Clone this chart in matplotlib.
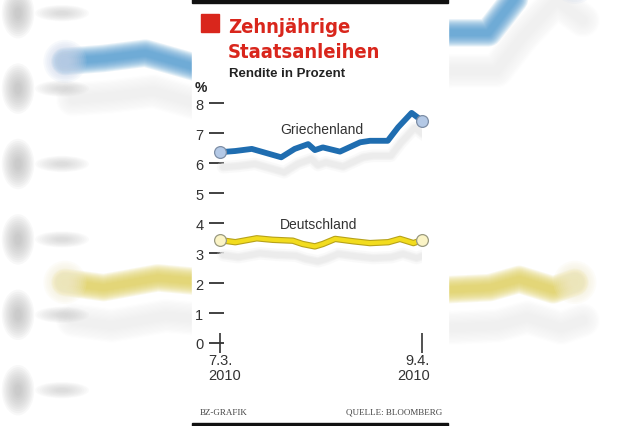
import matplotlib.pyplot as plt
from matplotlib.patches import Rectangle, Ellipse
import numpy as np

# Rendite zehnjaehriger Staatsanleihen, 7.3.2010 - 9.4.2010 (Tage seit Start)
gr_days = [0, 2.5, 5.2, 7.6, 10, 12.2, 14.4, 15.5, 16.8, 19.6, 22.9, 24.5, 27.4, 29.1, 31.3, 33]
gr_vals = [6.36, 6.40, 6.47, 6.33, 6.19, 6.47, 6.63, 6.43, 6.52, 6.38, 6.69, 6.74, 6.74, 7.19, 7.67, 7.41]
de_days = [0, 2.5, 6, 8.6, 11.9, 13.5, 15.5, 16.8, 18.8, 21.8, 24.5, 27.5, 29.4, 31.6, 33]
de_vals = [3.43, 3.36, 3.49, 3.44, 3.41, 3.30, 3.22, 3.30, 3.47, 3.39, 3.33, 3.36, 3.47, 3.33, 3.43]
yticks = [0, 1, 2, 3, 4, 5, 6, 7, 8]
start_label = "7.3.\n2010"
end_label = "9.4.\n2010"

W, H = 640, 427
fig = plt.figure(figsize=(6.4, 4.27), dpi=100)
fig.patch.set_facecolor("white")

def fx(x):
    return x / W

def fy(y):
    return 1 - y / H

BLUE = "#1f6db0"
YEL = "#f2dc1e"
YEL_EDGE = "#b7a21a"
RED = "#d9261c"

# --- blurred, enlarged copy of the chart in the background ---
bg = fig.add_axes([0, 0, 1, 1])
bg.set_xlim(0, W)
bg.set_ylim(H, 0)
bg.axis("off")

def bx(d):
    return 65 + 15.45 * np.asarray(d)

def by(v):
    return 542 - 75.4 * np.asarray(v)

def soft_line(x, y, color, width, alpha=0.13, zorder=1):
    for k in np.linspace(2.2, 0.5, 12):
        bg.plot(x, y, color=color, lw=width * k, alpha=alpha,
                solid_capstyle="round", solid_joinstyle="round", zorder=zorder)

def soft_blob(cx, cy, w, h, color, alpha=0.12, zorder=1):
    for k in np.linspace(1.8, 0.4, 10):
        bg.add_patch(Ellipse((cx, cy), w * k, h * k, color=color, alpha=alpha,
                             lw=0, zorder=zorder))

for d, v in [(gr_days, gr_vals), (de_days, de_vals)]:
    soft_line(bx(d) + 8, by(v) + 38, "#e8e8e8", 11, 0.06)
soft_line(bx(gr_days), by(gr_vals), "#529bd0", 9, 0.13, 2)
soft_line(bx(de_days), by(de_vals), "#e0d05c", 9, 0.13, 2)
for d, v, c in [(gr_days, gr_vals, "#c9d5ea"), (de_days, de_vals, "#f3edd0")]:
    for i in [0, -1]:
        soft_blob(bx(d[i]), by(v[i]), 24, 24, c, 0.14, 3)

# blurred tick labels and tick marks
for t in yticks:
    soft_blob(18, by(t), 18, 28, "#a8a8a8", 0.08)
    soft_blob(62, by(t), 30, 9, "#c4c4c4", 0.07)

# --- white panel ---
bg.add_patch(Rectangle((192, 0), 256, H, color="white", zorder=10))
bg.add_patch(Rectangle((192, 0), 256, 3.5, color="#111111", zorder=11))
bg.add_patch(Rectangle((192, 423.5), 256, 3.5, color="#111111", zorder=11))

# --- main chart ---
x_left, x0, x1 = 209, 220, 422
y_top, y_bot = 104, 344
ppd = (x1 - x0) / 33.0
ax = fig.add_axes([fx(x_left), fy(y_bot), fx(x1 - x_left), (y_bot - y_top) / H])
ax.set_xlim(-(x0 - x_left) / ppd, 33)
ax.set_ylim(0, 8)
ax.patch.set_alpha(0)
for s in ax.spines.values():
    s.set_visible(False)

ax.set_yticks(yticks)
ax.set_yticklabels([str(t) for t in yticks], fontsize=10.5, color="#333333",
                   family="Liberation Sans")
ax.tick_params(axis="y", direction="in", length=10.5, width=1.3, color="#333333", pad=4)
ax.set_xticks([0, 33])
ax.set_xticklabels(["", ""])
ax.tick_params(axis="x", direction="inout", length=15, width=1.2, color="#333333")

# shadows
dd, dv = 0.5, -0.5
for d, v in [(gr_days, gr_vals), (de_days, de_vals)]:
    for lw, a in [(9, 0.25), (6, 0.5), (4, 0.8)]:
        ax.plot(np.asarray(d) + dd, np.asarray(v) + dv, color="#ebebeb", lw=lw,
                alpha=a, solid_capstyle="round", zorder=2)

ax.plot(gr_days, gr_vals, color=BLUE, lw=4.2, solid_capstyle="round",
        solid_joinstyle="round", zorder=4)
ax.plot(de_days, de_vals, color=YEL_EDGE, lw=4.6, solid_capstyle="round",
        solid_joinstyle="round", zorder=4)
ax.plot(de_days, de_vals, color=YEL, lw=3.0, solid_capstyle="round",
        solid_joinstyle="round", zorder=5)

ends = [0, -1]
ax.plot([gr_days[i] for i in ends], [gr_vals[i] for i in ends], "o", ms=8.5,
        mfc="#b4c9e6", mec="#7d8ea6", mew=0.9, zorder=6, clip_on=False)
ax.plot([de_days[i] for i in ends], [de_vals[i] for i in ends], "o", ms=8.5,
        mfc="#fbf4c6", mec="#9a9a80", mew=0.9, zorder=6, clip_on=False)

ax.text(16.6, 7.13, "Griechenland", fontsize=10, color="#333333",
        family="Liberation Sans", ha="center", va="center")
ax.text(16.1, 3.98, "Deutschland", fontsize=10, color="#333333",
        family="Liberation Sans", ha="center", va="center")

# date labels
fig.text(fx(208), fy(354), start_label, fontsize=10.5, color="#333333",
         family="Liberation Sans", ha="left", va="top", linespacing=1.1)
fig.text(fx(430), fy(354), end_label, fontsize=10.5, color="#333333",
         family="Liberation Sans", ha="right", va="top", linespacing=1.1,
         multialignment="right")

# title block
bg.add_patch(Rectangle((201, 15), 18, 18, color=RED, zorder=12))
fig.text(fx(228), fy(33), "Zehnjährige", fontsize=14.5, fontweight="bold",
         fontstretch="condensed", color=RED, family="DejaVu Sans",
         ha="left", va="baseline")
fig.text(fx(228), fy(58), "Staatsanleihen", fontsize=14.5, fontweight="bold",
         fontstretch="condensed", color=RED, family="DejaVu Sans",
         ha="left", va="baseline")
fig.text(fx(229), fy(77), "Rendite in Prozent", fontsize=9.5, fontweight="bold",
         color="#222222", family="Liberation Sans", ha="left", va="baseline")
fig.text(fx(195), fy(92), "%", fontsize=10, fontweight="bold",
         color="#222222", family="Liberation Sans", ha="left", va="baseline")

# footer
fig.text(fx(200), fy(415), "BZ-GRAFIK", fontsize=6.5, color="#444444",
         family="Liberation Serif", ha="left", va="baseline")
fig.text(fx(442), fy(415), "QUELLE: BLOOMBERG", fontsize=6.5, color="#444444",
         family="Liberation Serif", ha="right", va="baseline")

fig.savefig("out.png", dpi=100)
